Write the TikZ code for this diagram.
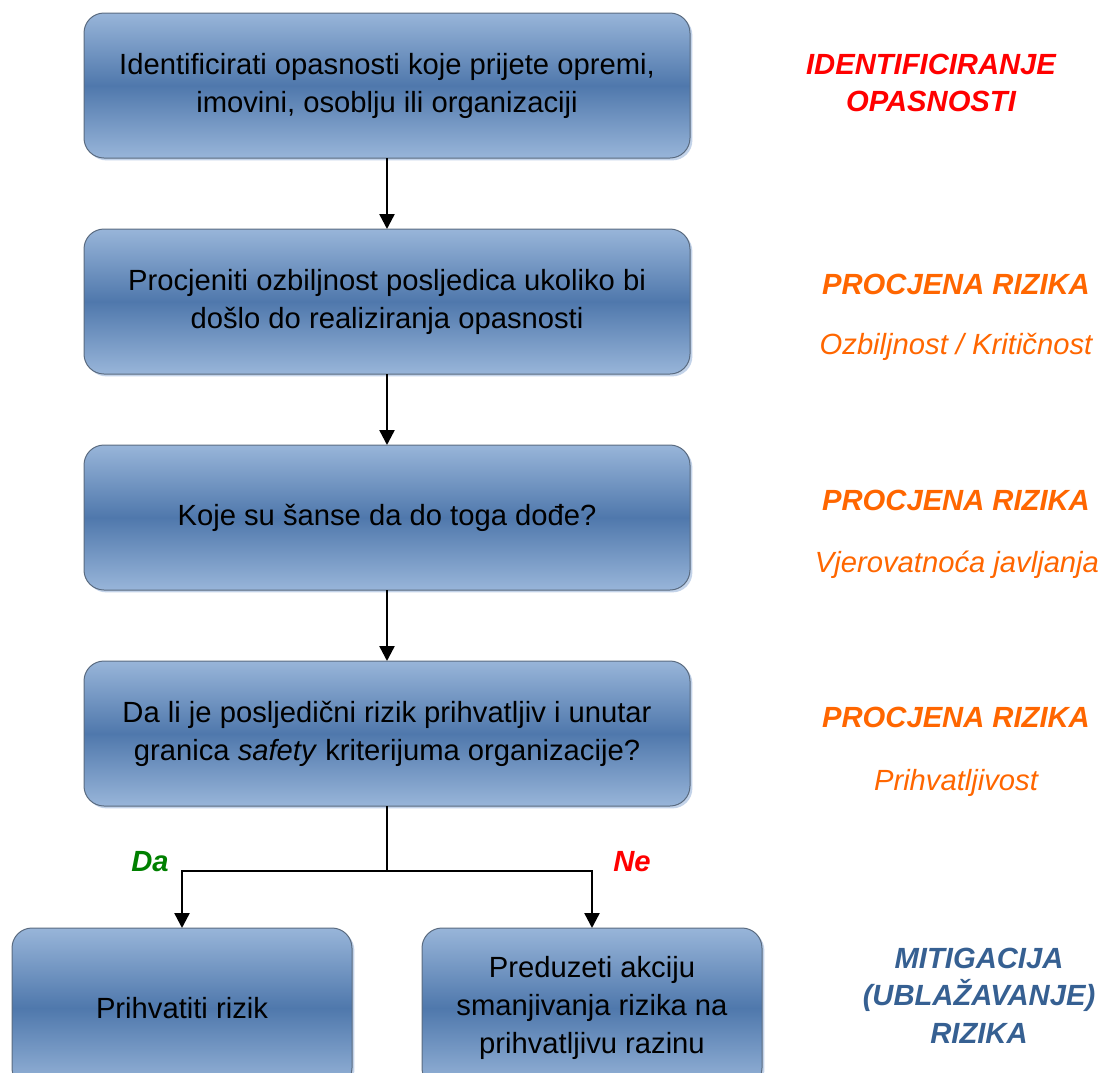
\documentclass[tikz,border=0pt]{standalone}
\usepackage{fontspec}
\setmainfont{Liberation Sans}
\usetikzlibrary{positioning, arrows.meta, shadows}
\definecolor{boxtop}{HTML}{98B5D9}
\definecolor{boxmid}{HTML}{4F78AC}
\definecolor{boxdark}{HTML}{5A6B80}
\definecolor{boxrim}{HTML}{C3D3E9}
\definecolor{riskred}{HTML}{FF0000}
\definecolor{riskorange}{HTML}{FF6600}
\definecolor{riskblue}{HTML}{366092}
\definecolor{yesgreen}{HTML}{008000}
\tikzset{
	>={Triangle[length=7.5pt, width=7.5pt]},
	node distance=35.5pt,
	stepbox/.style={rounded corners=10pt, minimum width=303pt, minimum height=72.5pt,
		align=center, top color=boxtop, bottom color=boxtop, middle color=boxmid,
		draw=boxdark, line width=0.5pt, inner sep=0pt, outer sep=0pt,
		drop shadow={shadow xshift=1.2pt, shadow yshift=-1.2pt, fill=boxrim, opacity=1},
		font=\fontsize{14.6}{19}\selectfont},
	smallbox/.style={stepbox, minimum width=170pt, minimum height=80pt},
	phase/.style={align=center, font=\fontsize{14.6}{18.75}\selectfont\bfseries\itshape},
	phasenote/.style={text=riskorange, font=\fontsize{14.6}{18}\selectfont\itshape},
	answer/.style={font=\fontsize{14.6}{18}\selectfont\bfseries\itshape},
	flow/.style={line width=1.2pt},
}
\begin{document}
\begin{tikzpicture}
	\useasboundingbox (0,0) rectangle (550pt,-536.5pt);

	\node[stepbox] (identify) at (193.5pt,-42.75pt) {Identificirati opasnosti koje prijete opremi,\\ imovini, osoblju ili organizaciji};
	\node[stepbox, below=of identify] (severity) {Procjeniti ozbiljnost posljedica ukoliko bi\\ došlo do realiziranja opasnosti};
	\node[stepbox, below=of severity] (chance) {Koje su šanse da do toga dođe?};
	\node[stepbox, below=of chance] (acceptable) {Da li je posljedični rizik prihvatljiv i unutar\\ granica \textit{safety} kriterijuma organizacije?};
	\coordinate[below=32.5pt of acceptable] (split);
	\node[smallbox, below=61pt of acceptable, xshift=-102.5pt] (takerisk) {Prihvatiti rizik};
	\node[smallbox, below=61pt of acceptable, xshift=102.5pt] (mitigate) {Preduzeti akciju\\ smanjivanja rizika na\\ prihvatljivu razinu};

	\draw[->, flow] (identify) -- (severity);
	\draw[->, flow] (severity) -- (chance);
	\draw[->, flow] (chance) -- (acceptable);
	\draw[flow] (acceptable) -- (split);
	\draw[->, flow] (split) -| (takerisk);
	\draw[->, flow] (split) -| (mitigate);

	\node[answer, text=yesgreen] (yes) at (75pt,-431pt) {Da};
	\node[answer, text=riskred] (no) at (316pt,-431pt) {Ne};

	% phases on the right
	\node[phase, text=riskred] (hazid) at (465.5pt,-41.5pt) {IDENTIFICIRANJE\\ OPASNOSTI};
	\node[phase, text=riskorange] (assess1) at (478pt,-142pt) {PROCJENA RIZIKA};
	\node[phasenote] (severitynote) at (478pt,-173.5pt) {Ozbiljnost / Kritičnost};
	\node[phase, text=riskorange] (assess2) at (478pt,-250pt) {PROCJENA RIZIKA};
	\node[phasenote] (chancenote) at (478.5pt,-282.5pt) {Vjerovatnoća javljanja};
	\node[phase, text=riskorange] (assess3) at (478pt,-358.5pt) {PROCJENA RIZIKA};
	\node[phasenote] (acceptnote) at (478pt,-391.5pt) {Prihvatljivost};
	\node[phase, text=riskblue] (mitigation) at (489.5pt,-497.75pt) {MITIGACIJA\\ (UBLAŽAVANJE)\\ RIZIKA};

\end{tikzpicture}
\end{document}
